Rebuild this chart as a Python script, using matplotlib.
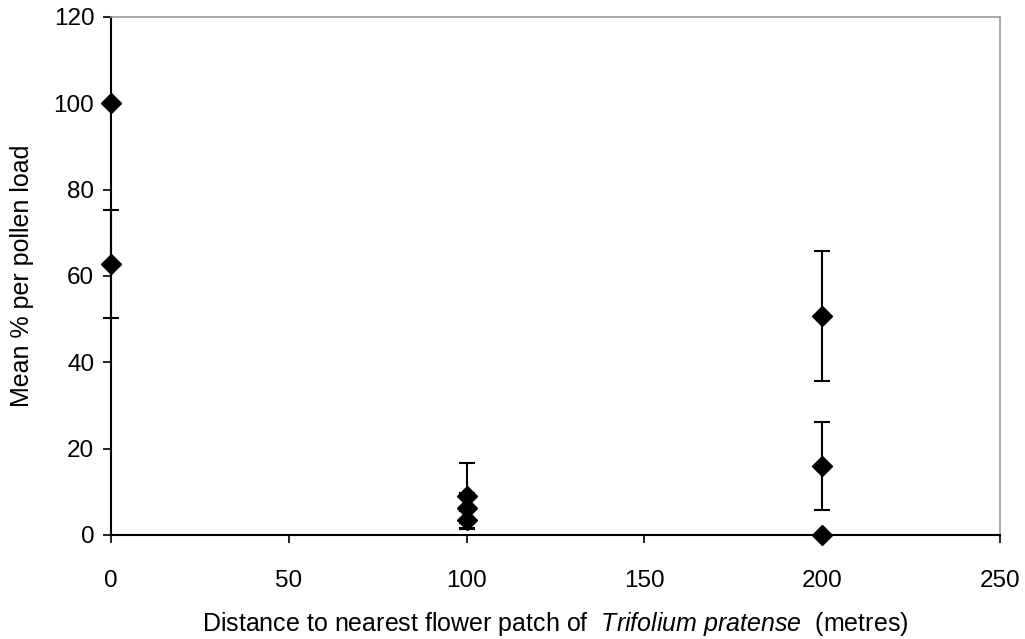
import matplotlib
matplotlib.use('Agg')
import matplotlib.pyplot as plt

plt.rcParams['font.family'] = ['Liberation Sans', 'DejaVu Sans']
plt.rcParams['mathtext.fontset'] = 'custom'
plt.rcParams['mathtext.rm'] = 'Liberation Sans'
plt.rcParams['mathtext.it'] = 'Liberation Sans:italic'

# distance to nearest patch (m), mean % per pollen load, error (+/-)
distance = [0, 0, 100, 100, 100, 200, 200, 200]
mean_pct = [100, 62.7, 9.0, 6.3, 3.5, 50.7, 16.0, 0]
err = [0, 12.5, 7.7, 3.5, 2.0, 15.0, 10.2, 0]

fig, ax = plt.subplots(figsize=(10.25, 6.39), dpi=100)
fig.subplots_adjust(left=0.1083, right=0.9756, bottom=0.1628, top=0.9734)

ax.errorbar(distance, mean_pct, yerr=err, fmt='D', color='black', ms=10,
            ecolor='black', elinewidth=1.5, capsize=6, capthick=1.5,
            clip_on=False, zorder=5)

ax.set_xlim(0, 250)
ax.set_ylim(0, 120)
ax.set_xticks([0, 50, 100, 150, 200, 250])
ax.set_yticks([0, 20, 40, 60, 80, 100, 120])
ax.tick_params(direction='out', length=6, width=1.2, labelsize=17.5)
ax.tick_params(axis='x', pad=19)
ax.tick_params(axis='y', pad=6)

for s in ['left', 'bottom']:
    ax.spines[s].set_color('black')
    ax.spines[s].set_linewidth(1.5)
for s in ['top', 'right']:
    ax.spines[s].set_color('#999999')
    ax.spines[s].set_linewidth(1.2)

ax.set_ylabel('Mean % per pollen load', fontsize=18, labelpad=14)
ax.set_xlabel(r'Distance to nearest flower patch of  $\mathit{Trifolium\ pratense}$  (metres)',
              fontsize=18, labelpad=13)

plt.savefig('out.png', dpi=100)
